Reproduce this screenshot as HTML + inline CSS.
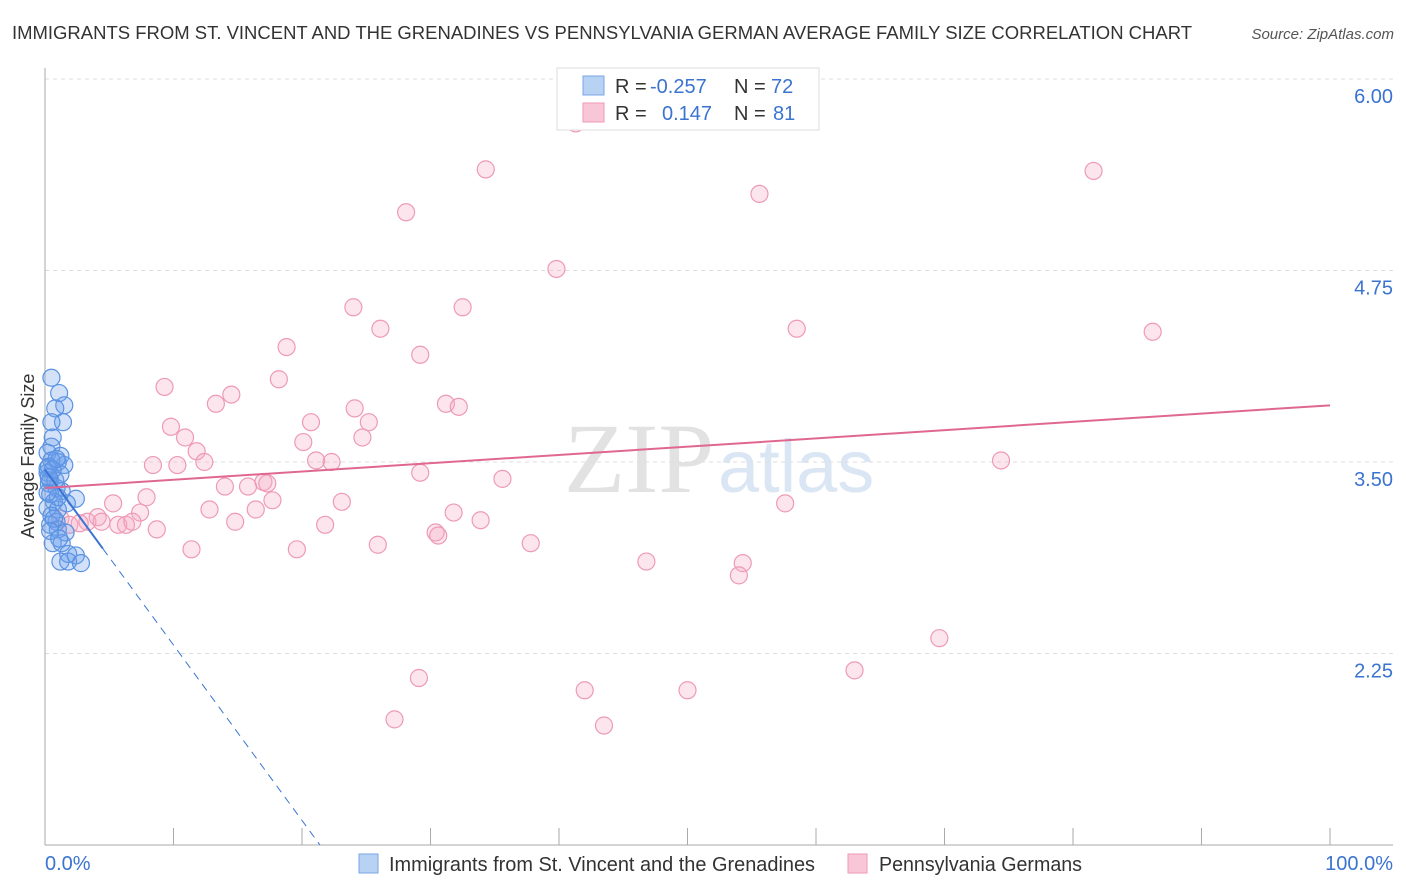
<!DOCTYPE html>
<html><head><meta charset="utf-8"><style>
body{margin:0;background:#fff;font-family:"Liberation Sans",sans-serif;}
</style></head><body>
<svg width="1406" height="892" style="position:absolute;left:0;top:0">
<text x="12" y="39" font-size="18" fill="#333" textLength="1180" lengthAdjust="spacingAndGlyphs">IMMIGRANTS FROM ST. VINCENT AND THE GRENADINES VS PENNSYLVANIA GERMAN AVERAGE FAMILY SIZE CORRELATION CHART</text>
<text x="1394" y="39" font-size="15" fill="#555" text-anchor="end" font-style="italic">Source: ZipAtlas.com</text>
<text x="714" y="492" font-size="100" fill="#e2e2e2" text-anchor="end" font-family="Liberation Serif">ZIP</text>
<text x="718" y="492" font-size="74" fill="#dbe6f5">atlas</text>
<g id="grid"></g>
<line x1="45" y1="68" x2="45" y2="845" stroke="#aaa"/>
<line x1="45" y1="845" x2="1393" y2="845" stroke="#aaa"/>
<g id="xticks"></g>
<text transform="translate(34,456) rotate(-90)" font-size="18" fill="#333" text-anchor="middle">Average Family Size</text>
<text x="45" y="870" font-size="20" fill="#3a74d0">0.0%</text>
<text x="1393" y="870" font-size="20" fill="#3a74d0" text-anchor="end">100.0%</text>
<g id="pts"></g>
<g id="trends"></g>
<g>
<rect x="557" y="68" width="262" height="62" fill="#fff" stroke="#ddd"/>
<rect x="583" y="76" width="21" height="19" fill="#b8d2f4" stroke="#7aa6e6"/>
<rect x="583" y="103" width="21" height="19" fill="#f8c6d6" stroke="#ee9ab6"/>
<text x="615" y="93" font-size="20" fill="#333">R = <tspan x="650" fill="#3a74d0">-0.257</tspan><tspan x="734">N = </tspan><tspan x="771" fill="#3a74d0">72</tspan></text>
<text x="615" y="120" font-size="20" fill="#333">R = <tspan x="662" fill="#3a74d0">0.147</tspan><tspan x="734">N = </tspan><tspan x="773" fill="#3a74d0">81</tspan></text>
</g>
<g>
<rect x="359" y="854" width="19" height="19" fill="#b8d2f4" stroke="#7aa6e6"/>
<text x="389" y="871" font-size="20" fill="#333" textLength="426" lengthAdjust="spacingAndGlyphs">Immigrants from St. Vincent and the Grenadines</text>
<rect x="848" y="854" width="19" height="19" fill="#f8c6d6" stroke="#ee9ab6"/>
<text x="879" y="871" font-size="20" fill="#333" textLength="203" lengthAdjust="spacingAndGlyphs">Pennsylvania Germans</text>
</g>
</svg>
<script>
const yTicks=[6.00,4.75,3.50,2.25];
const pinkX=[41.3,34.3,81.6,28.1,55.6,39.8,24.0,32.5,26.1,58.5,86.2,18.8,29.2,9.3,18.2,14.5,13.3,31.2,32.2,24.1,20.7,25.2,9.8,10.9,24.7,20.1,11.8,12.4,8.4,10.3,21.1,22.3,29.2,35.6,74.4,14.0,15.8,17.0,17.3,17.7,23.1,7.9,5.3,57.6,12.8,16.4,7.4,31.8,4.1,3.3,4.4,5.7,6.3,6.8,8.7,14.8,21.8,33.9,30.4,30.6,1.2,1.9,2.7,25.9,37.8,11.4,19.6,46.8,54.3,54.0,69.6,63.0,29.1,42.0,50.0,27.2,43.5];
const pinkY=[5.71,5.41,5.40,5.13,5.25,4.76,4.51,4.51,4.37,4.37,4.35,4.25,4.20,3.99,4.04,3.94,3.88,3.88,3.86,3.85,3.76,3.76,3.73,3.66,3.66,3.63,3.57,3.50,3.48,3.48,3.51,3.50,3.43,3.39,3.51,3.34,3.34,3.37,3.36,3.25,3.24,3.27,3.23,3.23,3.19,3.19,3.17,3.17,3.14,3.11,3.11,3.09,3.09,3.11,3.06,3.11,3.09,3.12,3.04,3.02,3.13,3.09,3.10,2.96,2.97,2.93,2.93,2.85,2.84,2.76,2.35,2.14,2.09,2.01,2.01,1.82,1.78];
const blueX=[0.5,1.1,1.5,0.8,1.4,0.5,0.6,0.5,1.2,0.2,1.5,1.0,0.5,0.2,1.2,0.3,0.9,1.3,2.4,0.4,1.7,0.7,0.2,1.0,0.5,0.9,0.4,1.0,1.6,0.6,1.3,1.8,2.4,1.2,1.8,2.8,0.2,0.4,0.8,1.0,0.3,0.6,0.9,0.2,0.7,0.4,1.1,0.3];
const blueY=[4.05,3.95,3.87,3.85,3.76,3.76,3.66,3.60,3.54,3.56,3.48,3.50,3.51,3.43,3.42,3.36,3.33,3.31,3.26,3.29,3.23,3.24,3.20,3.19,3.15,3.11,3.09,3.06,3.04,2.97,2.97,2.90,2.89,2.85,2.85,2.84,3.46,3.38,3.38,3.27,3.47,3.45,3.52,3.30,3.13,3.05,3.00,3.40];
const blueTrend=[3.45,1.0];
const blueTrendX=[0,21.4];
const pinkTrend=[3.33,3.87];
const NS='http://www.w3.org/2000/svg';
const X=p=>45+p/100*1285, Y=v=>79+(6-v)/1.25*191.5;
function mk(t,a,p){const e=document.createElementNS(NS,t);for(const k in a)e.setAttribute(k,a[k]);document.getElementById(p).appendChild(e);return e;}
yTicks.forEach(v=>{
 const l=mk('line',{x1:45,x2:1393,y1:Y(v),y2:Y(v),stroke:'#ddd','stroke-dasharray':'4,4'},'grid');
 
 
 const t=mk('text',{x:1393,y:Y(v)+24,'font-size':20,fill:'#3a74d0','text-anchor':'end'},'grid');
 t.textContent=v.toFixed(2);
 
 
});
for(let i=0;i<=10;i++){
 const l=mk('line',{x1:X(i*10),x2:X(i*10),y1:828,y2:845,stroke:'#aaa'},'xticks');
 
 
}
pinkX.forEach((x,i)=>{
 const c=mk('circle',{cx:X(x),cy:Y(pinkY[i]),r:8.5,fill:'rgba(246,170,196,0.3)',stroke:'#ee9ab6','stroke-width':1.2},'pts');
 
 
});
blueX.forEach((x,i)=>{
 const c=mk('circle',{cx:X(x),cy:Y(blueY[i]),r:8.5,fill:'rgba(110,160,235,0.3)',stroke:'#5a92e2','stroke-width':1.2},'pts');
 
 
});
const bx=p=>blueTrend[0]+(blueTrend[1]-blueTrend[0])*(p-blueTrendX[0])/(blueTrendX[1]-blueTrendX[0]);
let l1=mk('line',{x1:X(0),y1:Y(bx(0)),x2:X(4.5),y2:Y(bx(4.5)),stroke:'#3a74d0','stroke-width':2},'trends');


let l2=mk('line',{x1:X(4.5),y1:Y(bx(4.5)),x2:X(blueTrendX[1]),y2:Y(bx(blueTrendX[1])),stroke:'#3a74d0','stroke-width':1,'stroke-dasharray':'8,6'},'trends');


let l3=mk('line',{x1:X(0),y1:Y(pinkTrend[0]),x2:X(100),y2:Y(pinkTrend[1]),stroke:'#e06890','stroke-width':2},'trends');


</script>
</body></html>
